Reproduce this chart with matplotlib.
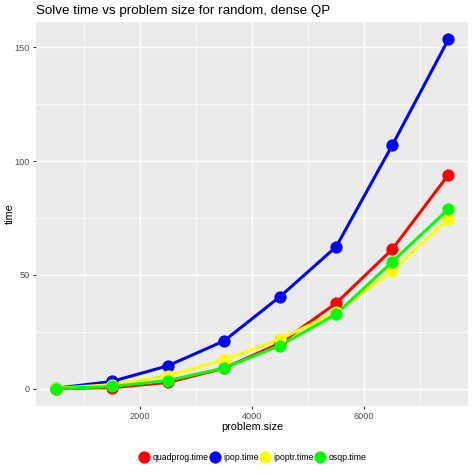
import matplotlib
matplotlib.use("Agg")
import matplotlib.pyplot as plt
from matplotlib.ticker import MultipleLocator
from matplotlib.lines import Line2D

plt.rcParams["font.family"] = ["Liberation Sans", "DejaVu Sans"]

problem_size = [500, 1500, 2500, 3500, 4500, 5500, 6500, 7500]
quadprog_time = [0.1, 0.5, 2.8, 9.0, 20.0, 37.6, 61.3, 94.0]
ipop_time = [0.2, 3.2, 10.1, 21.0, 40.5, 62.4, 107.0, 153.5]
ipoptr_time = [0.2, 1.8, 5.7, 12.7, 21.8, 33.6, 51.9, 74.7]
osqp_time = [0.1, 1.0, 3.6, 9.1, 19.0, 32.8, 55.8, 78.9]

series_names = ["quadprog.time", "ipop.time", "ipoptr.time", "osqp.time"]
series_values = [quadprog_time, ipop_time, ipoptr_time, osqp_time]
series_colors = ["#FF0000", "#0000FF", "#FFFF00", "#00FF00"]

W = 474
fig = plt.figure(figsize=(4.74, 4.74), dpi=100)
fig.patch.set_facecolor("white")
ax = fig.add_axes([36 / W, (W - 406) / W, 432 / W, 384 / W])
ax.set_facecolor("#EBEBEB")
for s in ax.spines.values():
    s.set_visible(False)

ax.xaxis.set_major_locator(MultipleLocator(2000))
ax.xaxis.set_minor_locator(MultipleLocator(1000))
ax.yaxis.set_major_locator(MultipleLocator(50))
ax.yaxis.set_minor_locator(MultipleLocator(25))
ax.grid(which="major", color="white", linewidth=1.0)
ax.grid(which="minor", color="white", linewidth=0.5)
ax.set_axisbelow(True)

for vals, c in zip(series_values, series_colors):
    ax.plot(problem_size, vals, color=c, linewidth=2.2, solid_capstyle="butt", zorder=3)
for vals, c in zip(series_values, series_colors):
    ax.plot(problem_size, vals, linestyle="none", marker="o", markersize=7.8,
            markerfacecolor=c, markeredgecolor=c, zorder=4)

xmin, xmax = min(problem_size), max(problem_size)
ymin = min(min(v) for v in series_values)
ymax = max(max(v) for v in series_values)
ax.set_xlim(xmin - 0.05 * (xmax - xmin), xmax + 0.05 * (xmax - xmin))
ax.set_ylim(ymin - 0.05 * (ymax - ymin), ymax + 0.05 * (ymax - ymin))

ax.tick_params(which="major", length=2.2, width=0.7, color="#333333",
               labelsize=6.6, labelcolor="#4D4D4D", pad=2)
ax.tick_params(which="minor", length=0)

ax.set_xlabel("problem.size", fontsize=7.8, va="center")
ax.xaxis.set_label_coords((252 - 36) / 432, (406 - 427) / 384)
ax.set_ylabel("time", fontsize=7.8, va="center")
ax.yaxis.set_label_coords((10 - 36) / 432, (406 - 214) / 384)
fig.text(36 / W, 1 - 11 / W, "Solve time vs problem size for random, dense QP",
         fontsize=9.6, ha="left", va="center")

handles = [Line2D([0], [0], linestyle="none", marker="o", markersize=7.8,
                  markerfacecolor=c, markeredgecolor=c) for c in series_colors]
fig.legend(handles, series_names, loc="center", bbox_to_anchor=(253 / W, 1 - 458 / W),
           ncol=4, frameon=False, fontsize=6.3, handletextpad=0.45, columnspacing=0.25,
           handlelength=1.0, borderpad=0.0)

fig.savefig("out.png", dpi=100)
